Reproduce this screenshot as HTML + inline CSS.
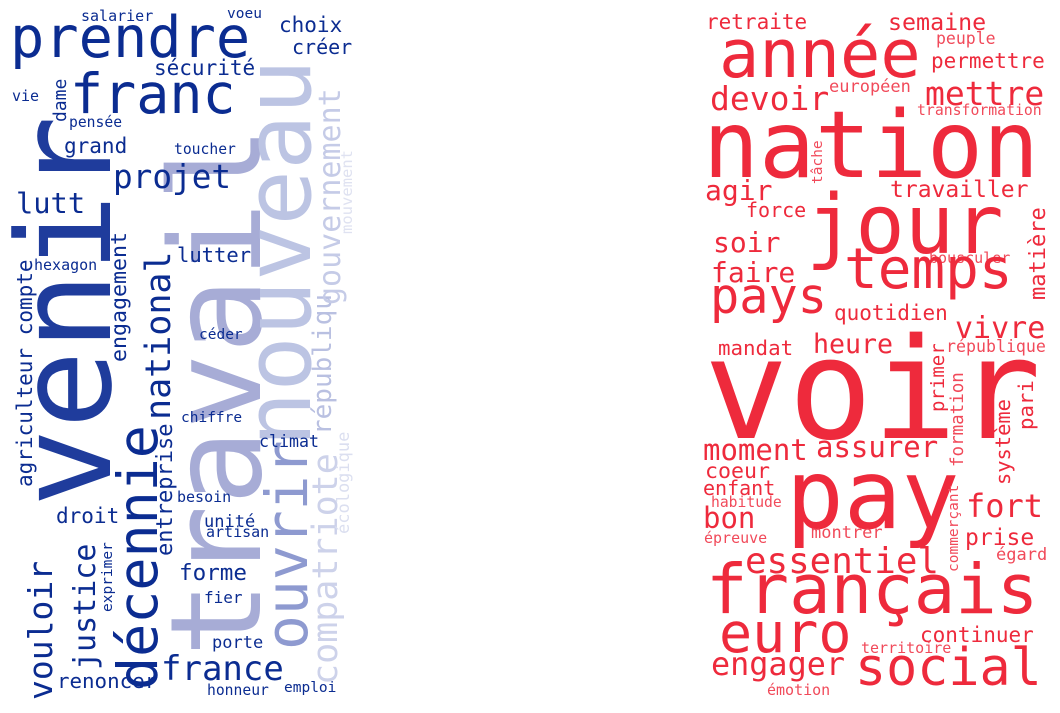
<!DOCTYPE html>
<html><head><meta charset="utf-8">
<style>
html,body{margin:0;padding:0;background:#fff;}
svg{display:block;}
text{font-family:"DejaVu Sans Mono","Liberation Mono",monospace;}
</style></head>
<body>
<svg id="wc" width="1060" height="713" viewBox="0 0 1060 713" xmlns="http://www.w3.org/2000/svg">
<g id="left"></g>
<g id="right"></g>
</svg>
<script>
// word, font size, x, y, rotated(1 = vertical reading upward), colour
// horizontal: x = left, y = baseline ; vertical: x = baseline x, y = start y
const B="#0b2c91", V="#1f3c9c";
const leftWords=[
["prendre",57,10,57,0,B],["franc",55,70,113,0,B],
["venir",130,110,507,1,V],["travail",126,260,657,1,"#a7acd6"],
["nouveau",92,310,447,1,"#bcc4e3"],["ouvrir",58,307,650,1,"#8e9ad0"],
["compatriote",35,337,685,1,"#cdd2ea"],["républiqu",26,331,435,1,"#b9c0e1"],
["gouvernement",30,340,305,1,"#c5cbe7"],["mouvement",15.5,352,234,1,"#dfe2f1"],
["écologique",17,349,534,1,"#dbdff0"],
["choix",21,279,32,0,B],["créer",20,292,54,0,B],["sécurité",21,154,75,0,B],
["salarier",15,81,21,0,B],["voeu",14.5,227,18,0,B],["vie",15,12,101,0,B],
["dame",18,66,122,1,B],["pensée",14.7,69,127,0,B],["grand",21,64,153,0,B],
["toucher",14.7,174,154,0,B],["projet",32.7,113,188,0,B],["lutt",28.7,16,213,0,B],
["lutter",20.5,177,262,0,B],["hexagon",15,34,270,0,B],
["engagement",21.6,126,362,1,B],["national",35,170,420,1,B],
["agriculteur compte",21,32,487,1,B],["céder",14.5,199,339,0,B],
["chiffre",14.5,181,422,0,B],["climat",16.6,259,447,0,B],
["décennie",55,157,690,1,B],["entreprise",22,172,556,1,B],
["besoin",15,177,502,0,B],["droit",21,56,523,0,B],["unité",17,204,527,0,B],
["artisan",15,206,537,0,B],["justice",30,95,670,1,B],["vouloir",33,52,700,1,B],
["exprimer",14.5,112,612,1,B],["forme",22.6,179,580,0,B],["fier",16,204,603,0,B],
["porte",17,212,648,0,B],["france",34,161,680,0,B],["renoncer",20.8,57,688,0,B],
["honneur",14.7,207,695,0,B],["emploi",14.5,284,692,0,B]
];
const R="#ee2a3c", L="#f14a5a";
const rightWords=[
["retraite",21,706,29,0,R],["année",67,719,77,0,R],["semaine",23.3,888,30,0,R],
["peuple",16.5,936,44,0,L],["permettre",21,931,68,0,R],["devoir",33,710,110,0,R],
["européen",17,829,92,0,L],["mettre",33,925,105,0,R],["transformation",14.8,917,115,0,L],
["nation",93,703,177,0,R],["tâche",14.5,822,184,1,L],["agir",28,705,200,0,R],
["travailler",23,890,197,0,R],["force",20,746,217,0,R],["jour",82,806,253,0,R],
["soir",28,713,252,0,R],["matière",22,1045,300,1,R],["bousculer",15,929,263,0,L],
["faire",28,711,282,0,R],["temps",56,844,288,0,R],["pays",48.6,710,313,0,R],
["quotidien",21,834,320,0,R],["vivre",30,955,338,0,R],["heure",26.6,813,353,0,R],
["mandat",20.8,718,355,0,R],["république",16.6,946,352,0,L],["primer",19,944,412,1,R],
["voir",140,704,438,0,R],["pay",96,786,528,0,R],["moment",29,703,460,0,R],
["assurer",29,816,457,0,R],["formation",17.5,963,467,1,L],["système",20.4,1010,485,1,R],
["pari",20.7,1033,430,1,R],["coeur",21.6,705,478,0,R],["enfant",20,703,495,0,R],
["habitude",14.7,711,507,0,L],["bon",29,703,528,0,R],["fort",32,966,517,0,R],
["commerçant",14.5,958,572,1,L],["montrer",17,811,538,0,L],["épreuve",15,704,543,0,L],
["prise",23,965,545,0,R],["égard",17,996,560,0,L],["essentiel",35.8,745,573,0,R],
["français",69,706,613,0,R],["euro",55,719,652,0,R],["continuer",21,920,642,0,R],
["territoire",15,861,653,0,L],["engager",31.8,711,675,0,R],["social",51.7,855,685,0,R],
["émotion",15,767,695,0,L]
];
const NS="http://www.w3.org/2000/svg";
function draw(list, gid){
  const g=document.getElementById(gid);
  list.forEach(w=>{
    const t=document.createElementNS(NS,"text");
    t.textContent=w[0];
    t.setAttribute("font-size",w[1]);
    t.setAttribute("fill",w[5]);
    if(w[4]){
      t.setAttribute("transform","translate("+w[2]+","+w[3]+") rotate(-90)");
      t.setAttribute("x",0);t.setAttribute("y",0);
    } else {
      t.setAttribute("x",w[2]);t.setAttribute("y",w[3]);
    }
    
    
    g.appendChild(t);
  });
}
draw(leftWords,"left");
draw(rightWords,"right");
</script>
</body></html>
